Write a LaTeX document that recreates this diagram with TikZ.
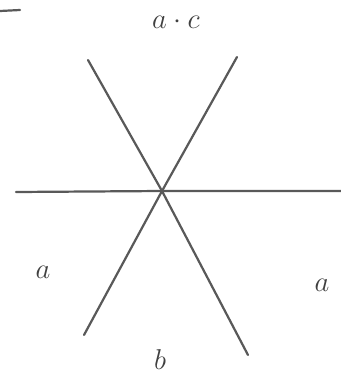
\documentclass[tikz,border=0pt]{standalone}
\usetikzlibrary{positioning}
\tikzset{
  stroke/.style={draw=black!65,line width=1.6pt,line cap=round},
  lbl/.style={text=black!75,font=\fontsize{22}{26}\selectfont,inner sep=0pt}
}
\begin{document}
\begin{tikzpicture}[x=0.0254cm,y=-0.0254cm]
  \useasboundingbox (0,0) rectangle (341,376);
  \coordinate (O) at (162,191);
  \coordinate (w) at (16,192); \coordinate (e) at (341,191);
  \coordinate (nw) at (88,60); \coordinate (se) at (248,355);
  \coordinate (ne) at (237,57); \coordinate (sw) at (84,335);
  \draw[stroke] (w) -- (O) -- (e);
  \draw[stroke] (nw) -- (O) -- (se);
  \draw[stroke] (ne) -- (O) -- (sw);
  \draw[stroke] (0,11) -- (20,10);
  \node[lbl] (top) at (176,22) {$a\cdot c$};
  \node[lbl] (left) at (43,272) {$a$};
  \node[lbl] (right) at (322,285) {$a$};
  \node[lbl] (bottom) at (160,360) {$b$};
\end{tikzpicture}
\end{document}
